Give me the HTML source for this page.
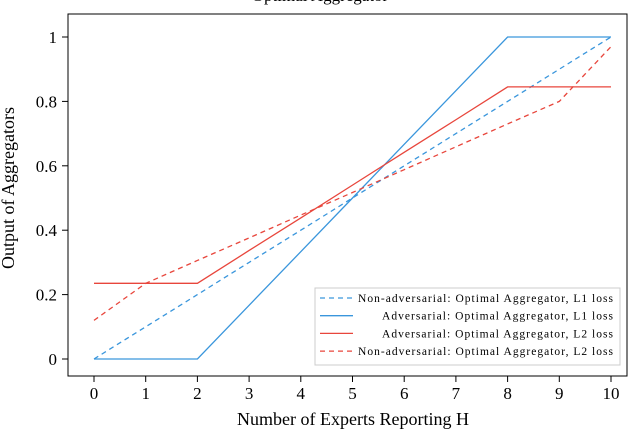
<!DOCTYPE html>
<html><head><meta charset="utf-8"><style>
html,body{margin:0;padding:0;background:#fff;}
svg{display:block;font-family:"Liberation Serif",serif;}
</style></head><body>
<svg id="chart" width="640" height="432" xmlns="http://www.w3.org/2000/svg">
<text x="320" y="1" text-anchor="middle" font-size="17">Optimal Aggregator</text>
<rect x="68" y="14" width="559" height="362" fill="none" stroke="#000" stroke-width="1"/>
<g id="xt"></g><g id="yt"></g><g id="series"></g>
<text x="353" y="425" text-anchor="middle" font-size="18">Number of Experts Reporting H</text>
<text transform="translate(14,188) rotate(-90)" text-anchor="middle" font-size="18">Output of Aggregators</text>
<g>
<rect x="315" y="288" width="305" height="77" fill="#fff" stroke="#ccc" stroke-width="1"/>
<g id="legend-items"></g>
</g>
</svg>
<script>
const xTicks=[0,1,2,3,4,5,6,7,8,9,10];
const yTicks=[0,0.2,0.4,0.6,0.8,1];
const yTickLabels=["0","0.2","0.4","0.6","0.8","1"];
const xs=[0,1,2,3,4,5,6,7,8,9,10];
const nonAdvL1=[0,0.1,0.2,0.3,0.4,0.5,0.6,0.7,0.8,0.9,1];
const advL1=[0,0,0,0.1667,0.3333,0.5,0.6667,0.8333,1,1,1];
const advL2=[0.235,0.235,0.235,0.337,0.438,0.54,0.642,0.743,0.845,0.845,0.845];
const nonAdvL2=[0.12,0.235,0.306,0.376,0.447,0.517,0.588,0.659,0.73,0.8,0.97];
const seriesNames=["Non-adversarial: Optimal Aggregator, L1 loss","Adversarial: Optimal Aggregator, L1 loss","Adversarial: Optimal Aggregator, L2 loss","Non-adversarial: Optimal Aggregator, L2 loss"];
const NS="http://www.w3.org/2000/svg";
const X=v=>94+v*51.7, Y=v=>359-v*322;
function mk(t,a,p){const e=document.createElementNS(NS,t);for(const k in a)e.setAttribute(k,a[k]);p.appendChild(e);return e;}
const xt=document.getElementById('xt'),yt=document.getElementById('yt');
xTicks.forEach(v=>{
 const l=mk('line',{x1:X(v),x2:X(v),y1:376,y2:382,stroke:'#000'},xt);
 
 
 const t=mk('text',{x:X(v),y:399,'text-anchor':'middle','font-size':17},xt);t.textContent=v;
 
 
});
yTicks.forEach((v,i)=>{
 const l=mk('line',{x1:62,x2:68,y1:Y(v),y2:Y(v),stroke:'#000'},yt);
 
 
 const t=mk('text',{x:57,y:Y(v)+6,'text-anchor':'end','font-size':17},yt);t.textContent=yTickLabels[i];
 
 
});
const data=[nonAdvL1,advL1,advL2,nonAdvL2];
const colors=["#3a96dc","#3a96dc","#e8463c","#e8463c"];
const dashes=["5,4","","","5,4"];
const names=["series-nonadv-l1","series-adv-l1","series-adv-l2","series-nonadv-l2"];
const sg=document.getElementById('series'),lg=document.getElementById('legend-items');
data.forEach((d,i)=>{
 const p=mk('polyline',{points:d.map((v,j)=>X(xs[j])+','+Y(v)).join(' '),fill:'none',stroke:colors[i],'stroke-width':1.3,'stroke-dasharray':dashes[i]},sg);
 
 
 const yy=298+i*17.7;
 const l=mk('line',{x1:320,x2:353,y1:yy,y2:yy,stroke:colors[i],'stroke-width':1.3,'stroke-dasharray':dashes[i]},lg);
 
 
 const w=seriesNames[i].startsWith('Non')?255:231;
 const t=mk('text',{x:613-w,y:yy+4,'font-size':11.5,textLength:w,lengthAdjust:'spacing'},lg);
 t.textContent=seriesNames[i];
 
 
});
</script>
</body></html>
